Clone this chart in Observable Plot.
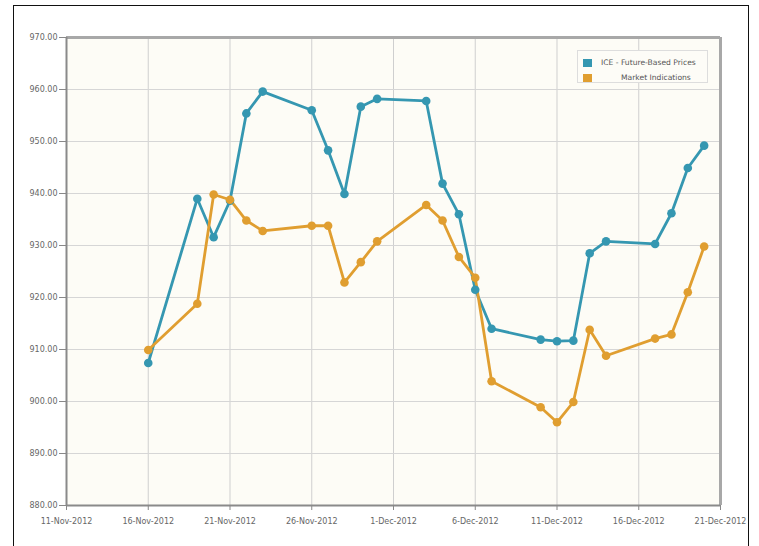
<!DOCTYPE html>
<html>
<head>
<meta charset="utf-8">
<script src="https://cdn.jsdelivr.net/npm/d3@7"></script>
<script src="https://cdn.jsdelivr.net/npm/@observablehq/plot@0.6"></script>
<style>
  html, body { margin: 0; padding: 0; background: #fff; }
  #wrap { position: relative; width: 759px; height: 546px; overflow: hidden; font-family: "DejaVu Sans", sans-serif; }
  #frame { position: absolute; left: 13px; top: 5px; width: 736px; height: 600px; border: 1.5px solid #111; box-sizing: border-box; pointer-events: none; }
  #legend { position: absolute; left: 577px; top: 50px; width: 131px; height: 33px; background: #fdfcf7; border: 1px solid #ddd; box-sizing: border-box; font-size: 7.6px; color: #555; }
  .item { position: absolute; left: 5px; height: 9px; display: flex; align-items: center; white-space: nowrap; }
  .sw { width: 9px; height: 8px; margin-right: 9px; }
</style>
</head>
<body>
<div id="wrap">
  <div id="chart"></div>
  <div id="legend"></div>
  <div id="frame"></div>
</div>
<script>
const dates = ["2012-11-16","2012-11-19","2012-11-20","2012-11-21","2012-11-22","2012-11-23",
  "2012-11-26","2012-11-27","2012-11-28","2012-11-29","2012-11-30",
  "2012-12-03","2012-12-04","2012-12-05","2012-12-06","2012-12-07",
  "2012-12-10","2012-12-11","2012-12-12","2012-12-13","2012-12-14",
  "2012-12-17","2012-12-18","2012-12-19","2012-12-20"];
const iceValues = [907.4, 939.0, 931.6, 938.6, 955.4, 959.6,
  956.0, 948.3, 939.9, 956.7, 958.2,
  957.8, 941.9, 936.0, 921.5, 914.0,
  911.9, 911.6, 911.7, 928.5, 930.8,
  930.3, 936.2, 944.9, 949.2];
const marketValues = [909.9, 918.8, 939.8, 938.8, 934.8, 932.8,
  933.8, 933.8, 922.9, 926.8, 930.8,
  937.8, 934.8, 927.8, 923.8, 903.9,
  898.9, 896.0, 899.9, 913.8, 908.8,
  912.1, 912.9, 921.0, 929.8];
const seriesNames = ["ICE - Future-Based Prices", "Market Indications"];
const seriesColors = ["#3597b1", "#e09e30"];
const xTickDates = ["2012-11-11","2012-11-16","2012-11-21","2012-11-26","2012-12-01","2012-12-06","2012-12-11","2012-12-16","2012-12-21"];
const yTicks = [880, 890, 900, 910, 920, 930, 940, 950, 960, 970];
const monthNames = ["Jan","Feb","Mar","Apr","May","Jun","Jul","Aug","Sep","Oct","Nov","Dec"];

const parse = d3.utcParse("%Y-%m-%d");
const rows = [];
dates.forEach((d, i) => {
  rows.push({date: parse(d), value: iceValues[i], series: seriesNames[0]});
});
dates.forEach((d, i) => {
  rows.push({date: parse(d), value: marketValues[i], series: seriesNames[1]});
});
const xTicks = xTickDates.map(parse);
const xDomain = [xTicks[0], xTicks[xTicks.length - 1]];
const yDomain = [yTicks[0], yTicks[yTicks.length - 1]];
const fmtDate = d => `${d.getUTCDate()}-${monthNames[d.getUTCMonth()]}-${d.getUTCFullYear()}`;

const chart = Plot.plot({
  width: 759,
  height: 546,
  marginLeft: 66,
  marginRight: 39,
  marginTop: 37,
  marginBottom: 41,
  style: {fontFamily: "DejaVu Sans, sans-serif", fontSize: "8px", background: "transparent"},
  x: {type: "utc", domain: xDomain, ticks: xTicks, tickFormat: fmtDate, label: null},
  y: {domain: yDomain, ticks: yTicks, tickFormat: d3.format(".2f"), label: null},
  color: {domain: seriesNames, range: seriesColors},
  marks: [
    Plot.frame({fill: "#fdfcf6", stroke: null}),
    Plot.gridX(xTicks, {stroke: "#cfcfcf", strokeOpacity: 1}),
    Plot.gridY(yTicks, {stroke: "#d6d6d6", strokeOpacity: 1}),
    Plot.ruleY([yDomain[1]], {stroke: "#a8a8a8", strokeWidth: 3}),
    Plot.ruleX([xDomain[1]], {stroke: "#a8a8a8", strokeWidth: 3}),
    Plot.ruleX([xDomain[0]], {stroke: "#8a8a8a", strokeWidth: 2}),
    Plot.ruleY([yDomain[0]], {stroke: "#8a8a8a", strokeWidth: 2}),
    Plot.axisX({ticks: xTicks, tickFormat: fmtDate, tickSize: 5, tickPadding: 8, stroke: "#888", fill: "#666"}),
    Plot.axisY({ticks: yTicks, tickFormat: d3.format(".2f"), tickSize: 7, tickPadding: 2, stroke: "#888", fill: "#666"}),
    Plot.line(rows, {x: "date", y: "value", z: "series", stroke: "series", strokeWidth: 2.8}),
    Plot.dot(rows, {x: "date", y: "value", fill: "series", r: 4.3})
  ]
});
document.getElementById("chart").appendChild(chart);

const legend = document.getElementById("legend");
seriesNames.forEach((name, i) => {
  const item = document.createElement("div");
  item.className = "item";
  item.style.top = (i === 0 ? 7 : 22) + "px";
  const sw = document.createElement("div");
  sw.className = "sw";
  sw.style.background = seriesColors[i];
  const label = document.createElement("span");
  label.textContent = name;
  if (i === 1) label.style.marginLeft = "20px";
  item.appendChild(sw);
  item.appendChild(label);
  legend.appendChild(item);
});
</script>
</body>
</html>
